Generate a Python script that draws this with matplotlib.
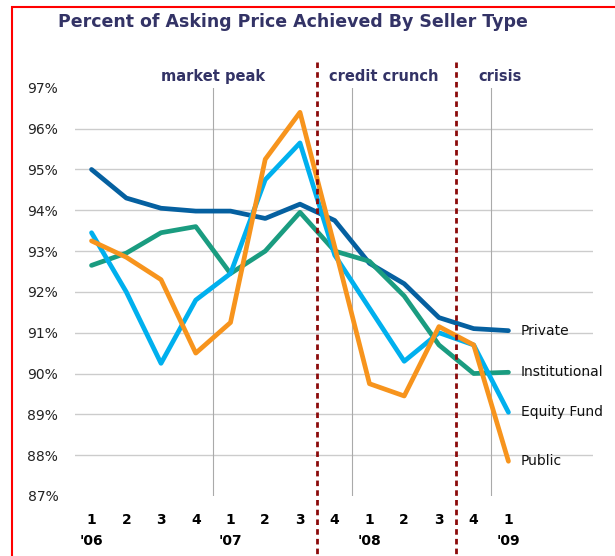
import numpy as np
import matplotlib.pyplot as plt
from matplotlib.patches import Rectangle

# quarters Q1 '06 .. Q1 '09
quarters = ['1', '2', '3', '4', '1', '2', '3', '4', '1', '2', '3', '4', '1']
years = ["'06", "'07", "'08", "'09"]
year_pos = [0, 4, 8, 12]

private = [95.0, 94.3, 94.05, 93.98, 93.98, 93.8, 94.15, 93.75, 92.7, 92.2, 91.37, 91.1, 91.05]
institutional = [92.65, 92.95, 93.45, 93.6, 92.45, 93.0, 93.95, 93.0, 92.75, 91.9, 90.7, 90.0, 90.03]
equity_fund = [93.45, 92.0, 90.25, 91.8, 92.45, 94.75, 95.65, 92.9, 91.6, 90.3, 91.0, 90.7, 89.05]
public = [93.25, 92.85, 92.3, 90.5, 91.25, 95.25, 96.4, 93.1, 89.75, 89.45, 91.15, 90.7, 87.85]

series = [('Private', private, '#0560a0'),
          ('Institutional', institutional, '#1a9c80'),
          ('Equity Fund', equity_fund, '#00b0ee'),
          ('Public', public, '#f7941d')]

periods = ['market peak', 'credit crunch', 'crisis']
period_pos = [3.5, 7.5, 11.5]
period_label_pos = [3.5, 8.42, 11.75]
breaks = [6.5, 10.5]

fig = plt.figure(figsize=(6.15, 5.56), dpi=100)
ax = fig.add_axes([0.122, 0.108, 0.842, 0.734])

x = np.arange(len(quarters))
ax.set_xlim(-0.475, 14.43)
ax.set_ylim(87, 97)

# grid
for v in range(88, 97):
    ax.axhline(v, color='#cccccc', lw=1, zorder=0)
for p in period_pos:
    ax.axvline(p, color='#aaaaaa', lw=0.8, zorder=0)

for name, vals, col in series:
    ax.plot(x, vals, color=col, lw=3.4, solid_joinstyle='round', solid_capstyle='round', zorder=3)

label_y = [91.05, 90.03, 89.05, 87.85]
for (name, vals, col), ly in zip(series, label_y):
    ax.text(12.35, ly, name, fontsize=10, va='center', ha='left', color='#111111')

# dashed period breaks
for b in breaks:
    ax.plot([b, b], [97.64, 85.5], color='#8b0a0a', lw=2, ls=(0, (2, 1.5)), clip_on=False, zorder=4)

for lab, p in zip(periods, period_label_pos):
    ax.text(p, 97.27, lab, fontsize=10.5, fontweight='bold', ha='center', va='center', color='#333366')

ax.set_yticks(range(87, 98))
ax.set_yticklabels([f'{v}%' for v in range(87, 98)], fontsize=10, color='#222222')
ax.set_xticks([])
ax.tick_params(axis='y', length=0, pad=12)
for s in ax.spines.values():
    s.set_visible(False)

for xi, q in zip(x, quarters):
    ax.text(xi, 86.41, q, fontsize=10, fontweight='bold', ha='center', va='center', clip_on=False)
for yp, yl in zip(year_pos, years):
    ax.text(yp, 85.9, yl, fontsize=10, fontweight='bold', ha='center', va='center', clip_on=False)

fig.text(0.477, 0.96, 'Percent of Asking Price Achieved By Seller Type', fontsize=12.5,
         fontweight='bold', color='#333366', ha='center', va='center')

fig.patches.append(Rectangle((12 / 615, -0.1), 1.2, 1 - 7 / 556 + 0.1, transform=fig.transFigure,
                             fill=False, edgecolor='#ff0000', lw=1.5))

fig.savefig('out.png', dpi=100)
